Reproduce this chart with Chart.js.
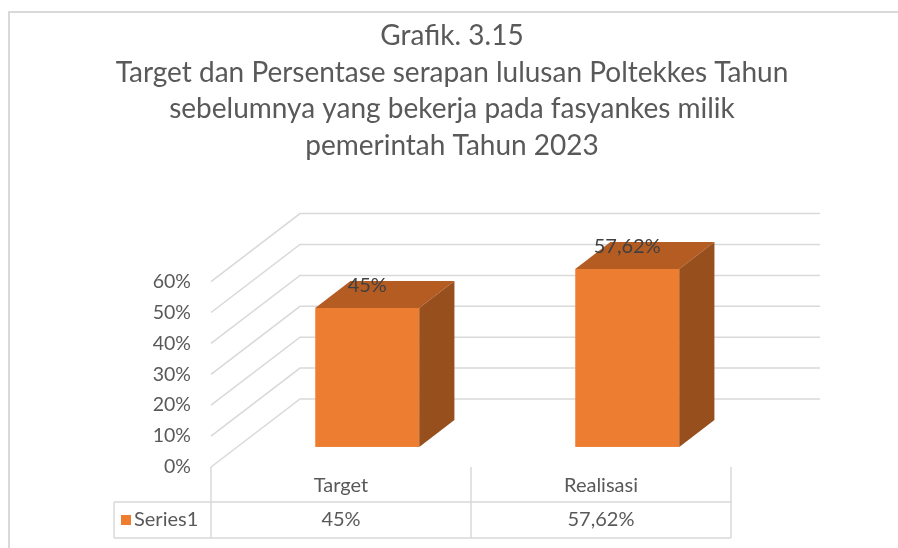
<!DOCTYPE html>
<html>
<head>
<meta charset="utf-8">
<script src="https://cdn.jsdelivr.net/npm/chart.js@4.4.0/dist/chart.umd.min.js"></script>
<style>
  body { margin: 0; background: #fff; }
  #wrap { width: 898px; height: 548px; }
</style>
</head>
<body>
<div id="wrap"><canvas id="chart" width="898" height="548"></canvas></div>
<script>
const categories = ['Target', 'Realisasi'];
const seriesName = 'Series1';
const seriesValues = [45, 57.62];
const yTicks = [0, 10, 20, 30, 40, 50, 60];
const titleLines = [
  'Grafik. 3.15',
  'Target dan Persentase serapan lulusan Poltekkes Tahun',
  'sebelumnya yang bekerja pada fasyankes milik',
  'pemerintah Tahun 2023'
];

const fontFamily = 'Lato, "Open Sans", sans-serif';
const textColor = '#595959';
const gridColor = '#d9d9d9';
const frontColor = '#ed7d31';
const topColor = '#b45c22';
const sideColor = '#974f1d';

// depth of the fake 3d floor in px, and where the bars sit in it
const wallDx = 89;
const wallDy = 68;
const barFront = 0.295;
const barBack = 0.69;

function formatPercent(v) {
  return String(v).replace('.', ',') + '%';
}

const wallsPlugin = {
  id: 'walls',
  beforeDraw(chart) {
    const { ctx } = chart;
    ctx.save();
    ctx.fillStyle = '#fff';
    ctx.fillRect(0, 0, chart.width, chart.height);
    ctx.strokeStyle = gridColor;
    ctx.lineWidth = 2;
    ctx.beginPath();
    ctx.moveTo(9, chart.height);
    ctx.lineTo(9, 12);
    ctx.lineTo(chart.width, 12);
    ctx.stroke();
    ctx.restore();
  },
  beforeDatasetsDraw(chart) {
    const { ctx, chartArea, scales: { y } } = chart;
    ctx.save();
    ctx.strokeStyle = gridColor;
    ctx.lineWidth = 1.5;
    yTicks.forEach((v) => {
      const py = y.getPixelForValue(v);
      ctx.beginPath();
      ctx.moveTo(chartArea.left, py);
      ctx.lineTo(chartArea.left + wallDx, py - wallDy);
      ctx.lineTo(chartArea.right + wallDx, py - wallDy);
      ctx.stroke();
    });
    ctx.restore();
  }
};

const bars3dPlugin = {
  id: 'bars3d',
  afterDatasetsDraw(chart) {
    const { ctx } = chart;
    const meta = chart.getDatasetMeta(0);
    const fx = barFront * wallDx;
    const fy = barFront * wallDy;
    const bx = (barBack - barFront) * wallDx;
    const by = (barBack - barFront) * wallDy;
    ctx.save();
    meta.data.forEach((bar, i) => {
      const { x, y, base, width } = bar.getProps(['x', 'y', 'base', 'width'], true);
      const left = x - width / 2 + fx;
      const right = x + width / 2 + fx;
      const top = y - fy;
      const bottom = base - fy;

      ctx.fillStyle = frontColor;
      ctx.fillRect(left, top, width, bottom - top);

      ctx.fillStyle = topColor;
      ctx.beginPath();
      ctx.moveTo(left, top);
      ctx.lineTo(left + bx, top - by);
      ctx.lineTo(right + bx, top - by);
      ctx.lineTo(right, top);
      ctx.closePath();
      ctx.fill();

      ctx.fillStyle = sideColor;
      ctx.beginPath();
      ctx.moveTo(right, top);
      ctx.lineTo(right + bx, top - by);
      ctx.lineTo(right + bx, bottom - by);
      ctx.lineTo(right, bottom);
      ctx.closePath();
      ctx.fill();

      ctx.fillStyle = '#404040';
      ctx.font = `20px ${fontFamily}`;
      ctx.textAlign = 'center';
      ctx.textBaseline = 'middle';
      ctx.fillText(formatPercent(seriesValues[i]), x + fx, top - 22);
    });
    ctx.restore();
  }
};

const tablePlugin = {
  id: 'dataTable',
  afterDraw(chart) {
    const { ctx, chartArea, scales: { x } } = chart;
    const top = chartArea.bottom;
    const rowTop = top + 35;
    const rowBottom = top + 71;
    const tableLeft = 114;

    const edges = [chartArea.left];
    for (let i = 0; i < categories.length - 1; i += 1) {
      edges.push((x.getPixelForValue(i) + x.getPixelForValue(i + 1)) / 2);
    }
    edges.push(chartArea.right);

    ctx.save();
    ctx.strokeStyle = gridColor;
    ctx.lineWidth = 1.5;
    ctx.beginPath();
    edges.forEach((ex) => {
      ctx.moveTo(ex, top);
      ctx.lineTo(ex, rowBottom);
    });
    ctx.moveTo(tableLeft, rowTop);
    ctx.lineTo(chartArea.right, rowTop);
    ctx.moveTo(tableLeft, rowBottom);
    ctx.lineTo(chartArea.right, rowBottom);
    ctx.moveTo(tableLeft, rowTop);
    ctx.lineTo(tableLeft, rowBottom);
    ctx.stroke();

    ctx.fillStyle = textColor;
    ctx.font = `20px ${fontFamily}`;
    ctx.textAlign = 'center';
    ctx.textBaseline = 'middle';
    categories.forEach((c, i) => {
      const cx = x.getPixelForValue(i);
      ctx.fillText(c, cx, (top + rowTop) / 2 + 1);
      ctx.fillText(formatPercent(seriesValues[i]), cx, (rowTop + rowBottom) / 2);
    });

    ctx.fillStyle = frontColor;
    ctx.fillRect(tableLeft + 7, (rowTop + rowBottom) / 2 - 5, 10, 10);
    ctx.fillStyle = textColor;
    ctx.textAlign = 'left';
    ctx.fillText(seriesName, tableLeft + 20, (rowTop + rowBottom) / 2);
    ctx.restore();
  }
};

new Chart(document.getElementById('chart'), {
  type: 'bar',
  data: {
    labels: categories,
    datasets: [{
      label: seriesName,
      data: seriesValues,
      backgroundColor: 'rgba(0,0,0,0)',
      barPercentage: 0.4,
      categoryPercentage: 1
    }]
  },
  options: {
    responsive: false,
    animation: false,
    layout: { padding: { left: 6, right: 0, top: 0, bottom: 81 } },
    plugins: {
      legend: { display: false },
      tooltip: { enabled: false },
      title: {
        display: true,
        text: titleLines,
        color: textColor,
        font: { family: fontFamily, size: 28, weight: 'normal', lineHeight: 1.31 },
        padding: { top: 17.6, bottom: 117.3 }
      }
    },
    scales: {
      x: { display: false },
      y: {
        min: 0,
        max: 60,
        ticks: {
          stepSize: 10,
          callback: (v) => v + '%',
          color: textColor,
          font: { family: fontFamily, size: 19.5 },
          padding: 20
        },
        grid: { display: false, drawTicks: false },
        border: { display: false },
        afterFit: (scale) => { scale.width = 205; }
      },
      // empty axis on the right only to keep room for the back wall
      spacer: {
        type: 'linear',
        position: 'right',
        grid: { display: false, drawTicks: false },
        border: { display: false },
        ticks: { display: false },
        afterFit: (scale) => { scale.width = 167; }
      }
    }
  },
  plugins: [wallsPlugin, bars3dPlugin, tablePlugin]
});
</script>
</body>
</html>
